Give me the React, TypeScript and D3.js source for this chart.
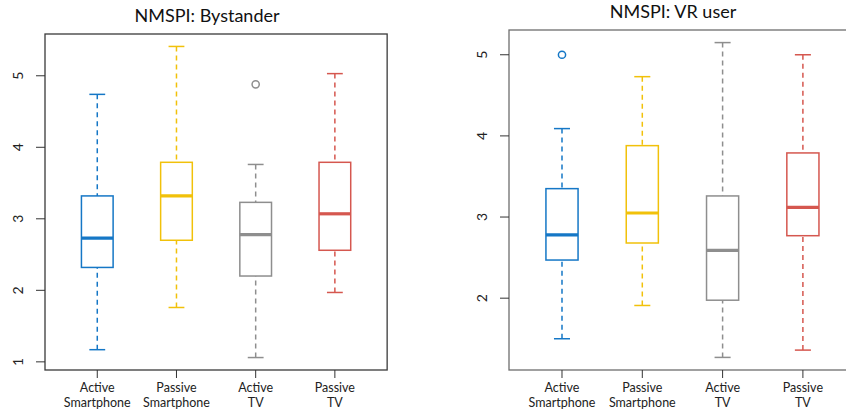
import React from "react";
import { select, scaleLinear } from "d3";

const categories = ["Active\nSmartphone", "Passive\nSmartphone", "Active\nTV", "Passive\nTV"];
const colors = ["#1577c6", "#f1c10a", "#8e8e8e", "#d5574f"];

// bystander: [lower whisker, q1, median, q3, upper whisker]
const bystanderStats = [
  [1.17, 2.32, 2.73, 3.32, 4.74],
  [1.76, 2.7, 3.32, 3.79, 5.41],
  [1.06, 2.2, 2.78, 3.23, 3.76],
  [1.97, 2.56, 3.07, 3.79, 5.03],
];
const bystanderOutliers = [[], [], [4.88], []];

const vrStats = [
  [1.5, 2.47, 2.78, 3.35, 4.09],
  [1.91, 2.68, 3.05, 3.88, 4.73],
  [1.27, 1.975, 2.59, 3.26, 5.15],
  [1.36, 2.77, 3.12, 3.79, 5.0],
];
const vrOutliers = [[5.0], [], [], []];

const bystanderTicks = [1, 2, 3, 4, 5];
const vrTicks = [2, 3, 4, 5];

interface Panel {
  title: string;
  titleX: number;
  titleY: number;
  stats: number[][];
  outliers: number[][];
  ticks: number[];
  left: number;
  top: number;
  bottom: number;
  unitW: number;
  frame: string;
}

const panels: Panel[] = [
  {
    title: "NMSPI: Bystander",
    titleX: 207,
    titleY: 22,
    stats: bystanderStats,
    outliers: bystanderOutliers,
    ticks: bystanderTicks,
    left: 45,
    top: 34,
    bottom: 370,
    unitW: 79.2,
    frame: "#3a3a3a",
  },
  {
    title: "NMSPI: VR user",
    titleX: 673,
    titleY: 18,
    stats: vrStats,
    outliers: vrOutliers,
    ticks: vrTicks,
    left: 509,
    top: 30,
    bottom: 370,
    unitW: 80.3,
    frame: "#6e6e6e",
  },
];

const FONT = "Lato, 'Open Sans', sans-serif";

export default function App() {
  const svgRef = React.useRef<SVGSVGElement>(null);

  React.useEffect(() => {
    const svg = select(svgRef.current);
    svg.selectAll("*").remove();

    panels.forEach((p) => {
      const g = svg.append("g");
      const all = p.stats.flat().concat(p.outliers.flat());
      const lo = Math.min(...all);
      const hi = Math.max(...all);
      const pad = (hi - lo) * 0.04;
      const y = scaleLinear().domain([lo - pad, hi + pad]).range([p.bottom, p.top]);
      const x = scaleLinear()
        .domain([0.34, 4.66])
        .range([p.left, p.left + 4.32 * p.unitW]);
      const right = x(4.66);
      const boxW = x(1.4) - x(1);

      g.append("rect")
        .attr("x", p.left)
        .attr("y", p.top)
        .attr("width", right - p.left)
        .attr("height", p.bottom - p.top)
        .attr("fill", "none")
        .attr("stroke", p.frame)
        .attr("stroke-width", 1.3);

      g.append("text")
        .attr("x", p.titleX)
        .attr("y", p.titleY)
        .attr("text-anchor", "middle")
        .style("font-family", FONT)
        .style("font-size", "18px")
        .attr("fill", "#111")
        .text(p.title);

      // y axis
      p.ticks.forEach((t) => {
        g.append("line")
          .attr("x1", p.left - 9)
          .attr("x2", p.left)
          .attr("y1", y(t))
          .attr("y2", y(t))
          .attr("stroke", "#333")
          .attr("stroke-width", 1);
        g.append("text")
          .attr("transform", `translate(${p.left - 22},${y(t)}) rotate(-90)`)
          .attr("text-anchor", "middle")
          .style("font-family", FONT)
          .style("font-size", "14px")
          .attr("fill", "#222")
          .text(String(t));
      });

      // x axis
      categories.forEach((c, i) => {
        const cx = x(i + 1);
        g.append("line")
          .attr("x1", cx)
          .attr("x2", cx)
          .attr("y1", p.bottom)
          .attr("y2", p.bottom + 8)
          .attr("stroke", "#333");
        const txt = g
          .append("text")
          .attr("text-anchor", "middle")
          .style("font-family", FONT)
          .style("font-size", "12.5px")
          .attr("fill", "#222");
        c.split("\n").forEach((ln, j) => {
          txt
            .append("tspan")
            .attr("x", cx)
            .attr("y", 392 + j * 15)
            .text(ln);
        });
      });

      p.stats.forEach((s, i) => {
        const [wl, q1, med, q3, wu] = s;
        const cx = x(i + 1);
        const col = colors[i];
        const bg = g.append("g");
        // whiskers
        [
          [wu, q3],
          [wl, q1],
        ].forEach(([a, b]) => {
          bg.append("line")
            .attr("x1", cx)
            .attr("x2", cx)
            .attr("y1", y(a))
            .attr("y2", y(b))
            .attr("stroke", col)
            .attr("stroke-width", 1.5)
            .attr("stroke-dasharray", "5,4");
          bg.append("line")
            .attr("x1", cx - boxW / 4)
            .attr("x2", cx + boxW / 4)
            .attr("y1", y(a))
            .attr("y2", y(a))
            .attr("stroke", col)
            .attr("stroke-width", 1.5);
        });
        bg.append("rect")
          .attr("x", cx - boxW / 2)
          .attr("y", y(q3))
          .attr("width", boxW)
          .attr("height", y(q1) - y(q3))
          .attr("fill", "white")
          .attr("stroke", col)
          .attr("stroke-width", 1.5);
        bg.append("line")
          .attr("x1", cx - boxW / 2)
          .attr("x2", cx + boxW / 2)
          .attr("y1", y(med))
          .attr("y2", y(med))
          .attr("stroke", col)
          .attr("stroke-width", 3.2);
        p.outliers[i].forEach((o) => {
          bg.append("circle")
            .attr("cx", cx)
            .attr("cy", y(o))
            .attr("r", 3.6)
            .attr("fill", "none")
            .attr("stroke", col)
            .attr("stroke-width", 1.5);
        });
      });
    });

    return () => {
      svg.selectAll("*").remove();
    };
  }, []);

  return (
    <svg
      ref={svgRef}
      width={846}
      height={414}
      style={{ position: "absolute", left: 0, top: 0, background: "white" }}
    />
  );
}
